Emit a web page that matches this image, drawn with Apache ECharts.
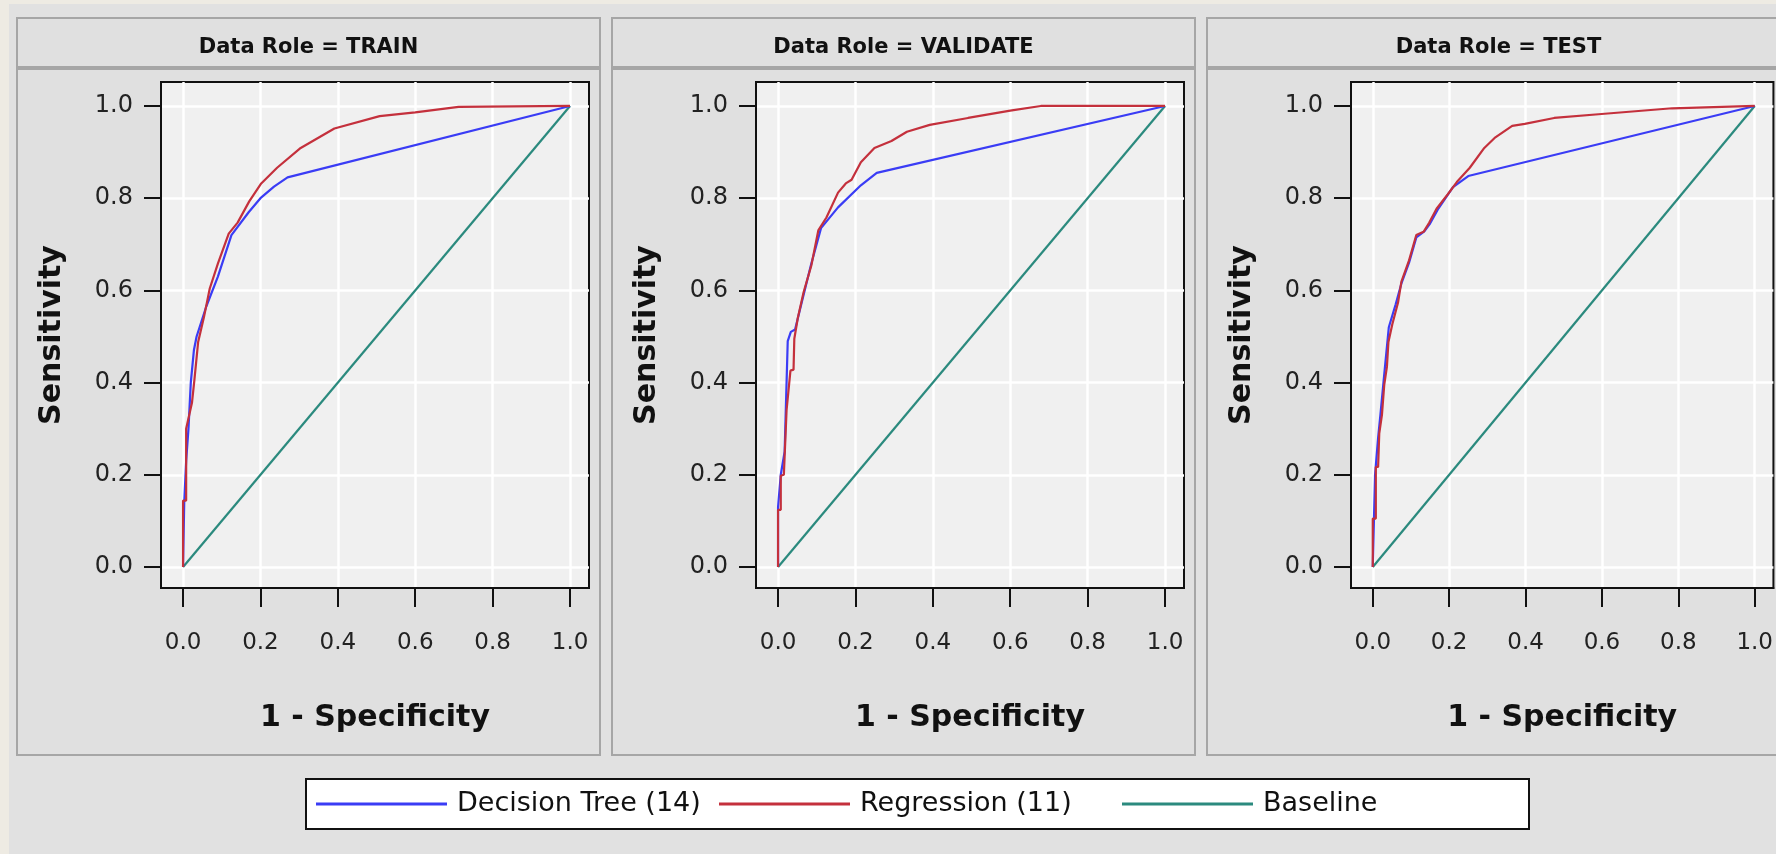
<!DOCTYPE html>
<html>
<head>
<meta charset="utf-8">
<script src="https://cdn.jsdelivr.net/npm/echarts@6.0.0/dist/echarts.min.js"></script>
<style>
  html, body { margin: 0; padding: 0; background: #e1e1e1; }
  #chart { width: 1776px; height: 854px; }
</style>
</head>
<body>
<div id="chart"></div>
<script>
// panel titles and legend entries
const roles = ['TRAIN', 'VALIDATE', 'TEST'];
const seriesNames = ['Decision Tree (14)', 'Regression (11)', 'Baseline'];
const tickValues = [0, 0.2, 0.4, 0.6, 0.8, 1.0];

// ROC points [1 - specificity, sensitivity]
const trainTree = [[0,0],[0.003,0.14],[0.008,0.23],[0.014,0.3],[0.02,0.4],[0.028,0.47],[0.035,0.5],[0.06,0.565],[0.09,0.63],[0.125,0.72],[0.17,0.77],[0.2,0.8],[0.235,0.825],[0.27,0.845],[1,1]];
const trainReg = [[0,0],[0,0.144],[0.008,0.144],[0.008,0.3],[0.013,0.302],[0.023,0.356],[0.029,0.403],[0.039,0.488],[0.054,0.542],[0.069,0.604],[0.09,0.658],[0.118,0.723],[0.141,0.747],[0.171,0.793],[0.202,0.832],[0.243,0.866],[0.304,0.909],[0.391,0.951],[0.508,0.978],[0.6,0.986],[0.712,0.998],[1,1]];
const validTree = [[0,0],[0,0.13],[0.007,0.2],[0.017,0.25],[0.025,0.49],[0.033,0.51],[0.044,0.515],[0.06,0.57],[0.085,0.655],[0.111,0.735],[0.155,0.78],[0.214,0.828],[0.255,0.855],[1,1]];
const validReg = [[0,0],[0,0.124],[0.007,0.124],[0.007,0.198],[0.015,0.2],[0.022,0.34],[0.027,0.342],[0.032,0.426],[0.04,0.428],[0.042,0.495],[0.051,0.54],[0.066,0.596],[0.086,0.654],[0.104,0.73],[0.125,0.758],[0.155,0.812],[0.175,0.832],[0.19,0.84],[0.214,0.878],[0.249,0.909],[0.293,0.924],[0.333,0.944],[0.392,0.959],[0.491,0.974],[0.6,0.99],[0.679,1],[1,1]];
const testTree = [[0,0],[0.003,0.1],[0.006,0.2],[0.014,0.28],[0.02,0.33],[0.028,0.4],[0.035,0.46],[0.042,0.52],[0.06,0.57],[0.075,0.615],[0.095,0.66],[0.114,0.715],[0.135,0.728],[0.15,0.745],[0.17,0.775],[0.21,0.824],[0.25,0.848],[1,1]];
const testReg = [[0,0],[0,0.105],[0.008,0.105],[0.008,0.217],[0.014,0.217],[0.017,0.29],[0.024,0.33],[0.03,0.395],[0.037,0.434],[0.041,0.488],[0.051,0.526],[0.066,0.573],[0.075,0.619],[0.095,0.665],[0.114,0.72],[0.133,0.727],[0.148,0.747],[0.167,0.777],[0.196,0.808],[0.22,0.835],[0.254,0.866],[0.292,0.909],[0.321,0.932],[0.365,0.957],[0.398,0.961],[0.475,0.974],[0.591,0.982],[0.784,0.995],[1,1]];
const baseline = [[0,0],[1,1]];

const treeData = [trainTree, validTree, testTree];
const regData = [trainReg, validReg, testReg];
const colors = ['#3a3cf5', '#c4303c', '#2b8a7e'];

const panelLeft = [17, 612, 1207];
const panelWidth = 583;
const font = 'DejaVu Sans';

const chart = echarts.init(document.getElementById('chart'));

const grids = [], xAxes = [], yAxes = [], titles = [], series = [];
const graphics = [
  { type: 'rect', z: -10, shape: { x: 0, y: 0, width: 1776, height: 4 }, style: { fill: '#eeebe3' } },
  { type: 'rect', z: -10, shape: { x: 0, y: 0, width: 9, height: 854 }, style: { fill: '#eeebe3' } }
];

roles.forEach((role, i) => {
  const L = panelLeft[i];
  graphics.push(
    { type: 'rect', z: -9, shape: { x: L, y: 18, width: panelWidth, height: 49 },
      style: { fill: '#e0e0e0', stroke: '#a6a6a6', lineWidth: 2 } },
    { type: 'rect', z: -9, shape: { x: L, y: 69, width: panelWidth, height: 686 },
      style: { fill: '#e0e0e0', stroke: '#a6a6a6', lineWidth: 2 } }
  );
  titles.push({
    text: 'Data Role = ' + role,
    left: L + panelWidth / 2, top: 37, textAlign: 'center', padding: 0,
    textStyle: { fontFamily: font, fontSize: 21, fontWeight: 'bold', color: '#111' }
  });
  grids.push({
    left: L + 144, top: 82, width: 428, height: 506,
    show: true, backgroundColor: '#f0f0f0', borderColor: '#111', borderWidth: 2
  });
  xAxes.push({
    type: 'value', gridIndex: i, min: -0.057, max: 1.049,
    name: '1 - Specificity', nameLocation: 'middle', nameGap: 115,
    nameTextStyle: { fontFamily: font, fontSize: 30, fontWeight: 'bold', color: '#111' },
    axisLine: { show: true, onZero: false, lineStyle: { color: '#111', width: 2 } },
    axisTick: { show: true, length: 19, customValues: tickValues, lineStyle: { color: '#111', width: 2 } },
    axisLabel: { customValues: tickValues, margin: 44, fontFamily: font, fontSize: 23, color: '#222',
      formatter: v => v.toFixed(1) },
    splitLine: { show: true, lineStyle: { color: '#ffffff', width: 2.5 } }
  });
  yAxes.push({
    type: 'value', gridIndex: i, min: -0.0456, max: 1.052,
    name: 'Sensitivity', nameLocation: 'middle', nameGap: 94,
    nameTextStyle: { fontFamily: font, fontSize: 30, fontWeight: 'bold', color: '#111' },
    axisLine: { show: true, onZero: false, lineStyle: { color: '#111', width: 2 } },
    axisTick: { show: true, length: 17, customValues: tickValues, lineStyle: { color: '#111', width: 2 } },
    axisLabel: { customValues: tickValues, margin: 28, fontFamily: font, fontSize: 24, color: '#222',
      formatter: v => v.toFixed(1) },
    splitLine: { show: true, lineStyle: { color: '#ffffff', width: 2.5 } }
  });
  [baseline, treeData[i], regData[i]].forEach((d, k) => {
    const idx = [2, 0, 1][k];
    series.push({
      name: seriesNames[idx], type: 'line', xAxisIndex: i, yAxisIndex: i,
      data: d, symbol: 'none', animation: false, z: 2 + k,
      lineStyle: { color: colors[idx], width: 2.2 }, itemStyle: { color: colors[idx] }
    });
  });
});

chart.setOption({
  backgroundColor: '#e1e1e1',
  animation: false,
  title: titles,
  graphic: { elements: graphics },
  grid: grids,
  xAxis: xAxes,
  yAxis: yAxes,
  legend: {
    data: seriesNames, left: 306, top: 779,
    orient: 'horizontal', itemGap: 0, itemWidth: 131, itemHeight: 3, icon: 'rect',
    backgroundColor: '#ffffff', borderColor: '#111', borderWidth: 2, borderRadius: 0,
    padding: [11, 4, 11, 10], selectedMode: false,
    textStyle: { fontFamily: font, fontSize: 27, color: '#111', width: 262, lineHeight: 28,
      padding: [0, 0, 0, 5] }
  },
  series: series
});
</script>
</body>
</html>
